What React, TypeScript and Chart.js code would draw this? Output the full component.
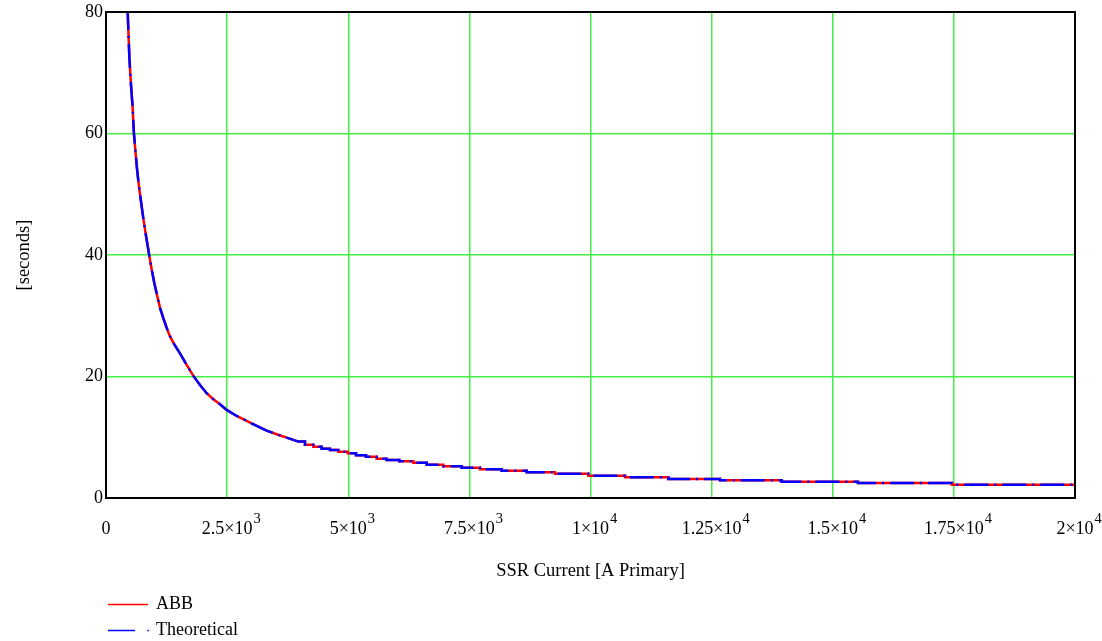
import React, { useEffect, useRef } from "react";
import { Chart, registerables } from "chart.js";

Chart.register(...registerables);

// SSR current [A primary] (repeated values are the vertical risers of the staircase)
const current = [
  446, 450, 482, 516, 548, 575, 605, 640, 670, 702, 736, 771, 819, 860, 893, 943,
  997, 1059, 1115, 1183, 1252, 1321, 1400, 1527, 1665, 1803, 1940, 2078, 2215,
  2353, 2491, 2697, 2904, 3110, 3316, 3523, 3729, 3970,
  4107, 4107, 4279, 4279, 4451, 4451, 4623, 4623, 4795, 4795, 4990, 4990,
  5160, 5160, 5366, 5366, 5587, 5587, 5793, 5793, 6054, 6054, 6343, 6343,
  6620, 6620, 6962, 6962, 7341, 7341, 7719, 7719, 8166, 8166, 8683, 8683,
  9267, 9267, 9955, 9955, 10712, 10712, 11606, 11606, 12673, 12673,
  13946, 13946, 15520, 15520, 17461, 17461, 20000,
];

// Trip time [seconds] — ABB curve
const abbTime = [
  81, 79.5, 72.5, 68.0, 64.5, 60.2, 57.3, 54.2, 52.0, 50.0, 48.0, 46.0, 43.5, 41.5,
  39.9, 37.6, 35.4, 33.2, 31.3, 29.6, 28.0, 26.6, 25.4, 23.8, 21.9, 20.1, 18.6,
  17.25, 16.26, 15.43, 14.5, 13.5, 12.7, 11.86, 11.09, 10.49, 9.93, 9.28,
  9.28, 8.78, 8.78, 8.45, 8.45, 8.12, 8.12, 7.91, 7.91, 7.63, 7.63, 7.36,
  7.36, 7.03, 7.03, 6.81, 6.81, 6.48, 6.48, 6.26, 6.26, 6.04, 6.04, 5.82,
  5.82, 5.49, 5.49, 5.21, 5.21, 4.99, 4.99, 4.72, 4.72, 4.5, 4.5, 4.23,
  4.23, 4.0, 4.0, 3.67, 3.67, 3.41, 3.41, 3.13, 3.13, 2.91,
  2.91, 2.69, 2.69, 2.47, 2.47, 2.19, 2.19,
];

// Trip time [seconds] — Theoretical curve
const theoreticalTime = [
  81, 79.5, 72.5, 68.0, 64.5, 60.2, 57.3, 54.2, 52.0, 50.0, 48.0, 46.0, 43.5, 41.5,
  39.9, 37.6, 35.4, 33.2, 31.3, 29.6, 28.0, 26.6, 25.4, 23.8, 21.9, 20.1, 18.6,
  17.25, 16.26, 15.43, 14.5, 13.5, 12.7, 11.86, 11.09, 10.49, 9.93, 9.28,
  9.28, 8.78, 8.78, 8.45, 8.45, 8.12, 8.12, 7.91, 7.91, 7.63, 7.63, 7.36,
  7.36, 7.03, 7.03, 6.81, 6.81, 6.48, 6.48, 6.26, 6.26, 6.04, 6.04, 5.82,
  5.82, 5.49, 5.49, 5.21, 5.21, 4.99, 4.99, 4.72, 4.72, 4.5, 4.5, 4.23,
  4.23, 4.0, 4.0, 3.67, 3.67, 3.41, 3.41, 3.13, 3.13, 2.91,
  2.91, 2.69, 2.69, 2.47, 2.47, 2.19, 2.19,
];

const xTickValues = [0, 2500, 5000, 7500, 10000, 12500, 15000, 17500, 20000];
const xTickBase = ["0", "2.5×10", "5×10", "7.5×10", "1×10", "1.25×10", "1.5×10", "1.75×10", "2×10"];
const xTickExp = ["", "3", "3", "3", "4", "4", "4", "4", "4"];
const yTickValues = [0, 20, 40, 60, 80];

const seriesNames = ["ABB", "Theoretical"];
const xTitle = "SSR Current [A Primary]";
const yTitle = "[seconds]";

const FONT = "'Liberation Serif', 'Times New Roman', serif";
const TICK_PAD = 20;

const framePlugin = {
  id: "frameAndLegend",
  afterDraw(chart: any) {
    const { ctx, chartArea } = chart;
    const { left, top, right, bottom } = chartArea;
    ctx.save();
    ctx.strokeStyle = "#000";
    ctx.lineWidth = 2;
    ctx.strokeRect(left, top, right - left, bottom - top);

    // exponents of the x tick labels
    const xs = chart.scales.x;
    ctx.fillStyle = "#000";
    ctx.textBaseline = "alphabetic";
    ctx.textAlign = "left";
    xTickValues.forEach((v, i) => {
      if (!xTickExp[i]) return;
      ctx.font = `18px ${FONT}`;
      const w = ctx.measureText(xTickBase[i]).width;
      const px = xs.getPixelForValue(v);
      ctx.font = `14.5px ${FONT}`;
      ctx.fillText(xTickExp[i], px + w / 2 + 1, bottom + TICK_PAD + 10.8 - 6);
    });

    // legend
    const lx = left + 2;
    const y1 = 604.5;
    const y2 = 630.5;
    ctx.lineWidth = 1.5;
    ctx.strokeStyle = "#ff0000";
    ctx.beginPath();
    ctx.moveTo(lx, y1);
    ctx.lineTo(lx + 40, y1);
    ctx.stroke();
    ctx.strokeStyle = "#0000ff";
    ctx.beginPath();
    ctx.moveTo(lx, y2);
    ctx.lineTo(lx + 27, y2);
    ctx.stroke();
    ctx.beginPath();
    ctx.moveTo(lx + 39.5, y2);
    ctx.lineTo(lx + 41, y2);
    ctx.stroke();

    ctx.fillStyle = "#000";
    ctx.font = `18px ${FONT}`;
    ctx.textBaseline = "middle";
    ctx.fillText(seriesNames[0], lx + 48, y1);
    ctx.fillText(seriesNames[1], lx + 48, y2);
    ctx.restore();
  },
};

export default function App() {
  const ref = useRef<HTMLCanvasElement | null>(null);

  useEffect(() => {
    if (!ref.current) return;
    const abbData = current.map((x, i) => ({ x, y: abbTime[i] }));
    const theoData = current.map((x, i) => ({ x, y: theoreticalTime[i] }));

    const chart = new Chart(ref.current, {
      type: "line",
      data: {
        datasets: [
          {
            label: seriesNames[0],
            data: abbData,
            borderColor: "#ff0000",
            borderWidth: 2.5,
            pointRadius: 0,
            tension: 0,
            order: 2,
          },
          {
            label: seriesNames[1],
            data: theoData,
            borderColor: "#0000ff",
            borderWidth: 2.5,
            borderDash: [24, 6, 2, 6],
            pointRadius: 0,
            tension: 0,
            order: 1,
          },
        ],
      },
      options: {
        responsive: false,
        animation: false,
        devicePixelRatio: 1,
        layout: { padding: { left: 0, top: 12, right: 27, bottom: 53 } },
        plugins: {
          legend: { display: false },
          tooltip: { enabled: false },
        },
        scales: {
          x: {
            type: "linear",
            min: 0,
            max: 20000,
            afterBuildTicks(scale: any) {
              scale.ticks = xTickValues.map((v) => ({ value: v }));
            },
            afterFit(scale: any) {
              scale.height = 90;
              scale.paddingLeft = 0;
              scale.paddingRight = 0;
            },
            ticks: {
              autoSkip: false,
              maxRotation: 0,
              minRotation: 0,
              padding: TICK_PAD,
              color: "#000",
              font: { family: FONT, size: 18 },
              callback: (v: any) => {
                const i = xTickValues.indexOf(Number(v));
                return i >= 0 ? xTickBase[i] : "";
              },
            },
            grid: {
              drawTicks: false,
              color: (c: any) =>
                c.tick && (c.tick.value === 0 || c.tick.value === 20000)
                  ? "rgba(0,0,0,0)"
                  : "#44ee44",
              lineWidth: 1.5,
            },
            border: { display: false },
            title: {
              display: true,
              text: xTitle,
              color: "#000",
              font: { family: FONT, size: 18.5 },
              padding: { top: 0, bottom: 6 },
            },
          },
          y: {
            type: "linear",
            min: 0,
            max: 80,
            afterBuildTicks(scale: any) {
              scale.ticks = yTickValues.map((v) => ({ value: v }));
            },
            afterFit(scale: any) {
              scale.width = 106;
              scale.paddingTop = 0;
              scale.paddingBottom = 0;
            },
            ticks: {
              padding: 3,
              color: "#000",
              font: { family: FONT, size: 18 },
            },
            grid: {
              drawTicks: false,
              color: (c: any) =>
                c.tick && (c.tick.value === 0 || c.tick.value === 80)
                  ? "rgba(0,0,0,0)"
                  : "#44ee44",
              lineWidth: 1.5,
            },
            border: { display: false },
            title: {
              display: true,
              text: yTitle,
              color: "#000",
              font: { family: FONT, size: 18.5 },
              padding: { top: 13, bottom: 0 },
            },
          },
        },
      } as any,
      plugins: [framePlugin],
    });
    return () => chart.destroy();
  }, []);

  return (
    <div style={{ position: "fixed", left: 0, top: 0, width: 1102, height: 641, background: "#fff" }}>
      <canvas ref={ref} width={1102} height={641} style={{ width: 1102, height: 641 }} />
    </div>
  );
}
